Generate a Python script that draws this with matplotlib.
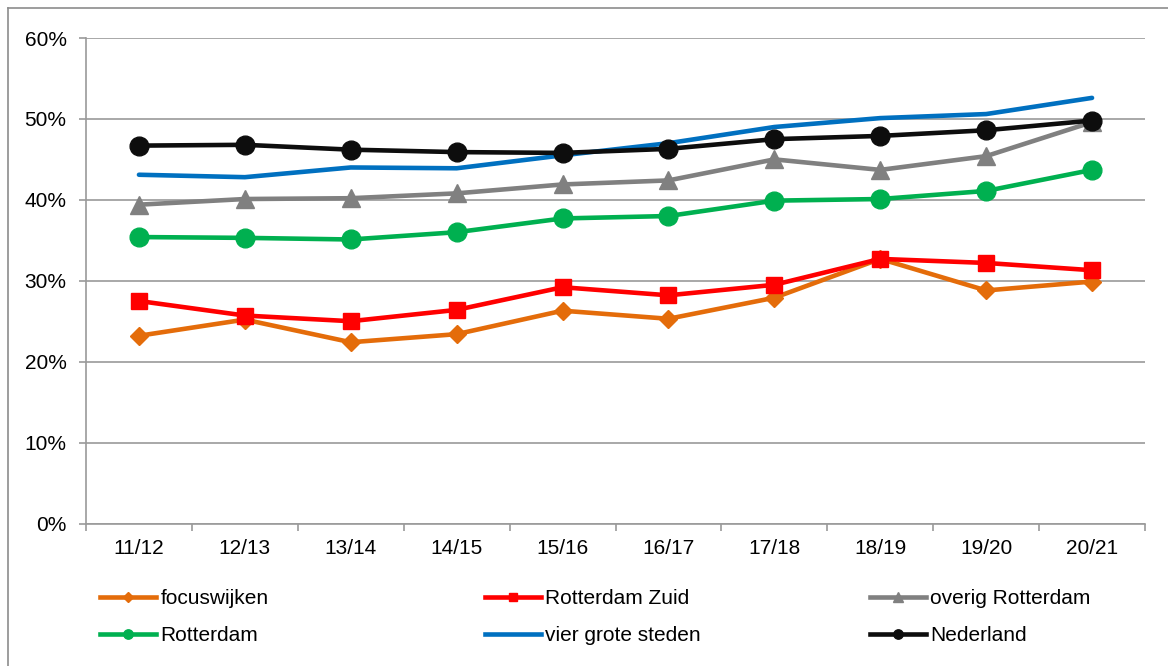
import matplotlib.pyplot as plt
from matplotlib.lines import Line2D
from matplotlib.ticker import FuncFormatter

plt.rcParams['font.family'] = ['Liberation Sans', 'DejaVu Sans']

jaren = ["11/12", "12/13", "13/14", "14/15", "15/16",
         "16/17", "17/18", "18/19", "19/20", "20/21"]

focuswijken = [23.2, 25.2, 22.4, 23.4, 26.3, 25.3, 27.9, 32.7, 28.8, 29.9]
rotterdam_zuid = [27.5, 25.7, 25.0, 26.4, 29.2, 28.2, 29.5, 32.7, 32.2, 31.3]
overig_rotterdam = [39.4, 40.1, 40.2, 40.8, 41.9, 42.4, 45.0, 43.7, 45.4, 49.6]
rotterdam = [35.4, 35.3, 35.1, 36.0, 37.7, 38.0, 39.9, 40.1, 41.1, 43.7]
vier_grote_steden = [43.1, 42.8, 44.0, 43.9, 45.5, 47.0, 49.0, 50.1, 50.6, 52.6]
nederland = [46.7, 46.8, 46.2, 45.9, 45.8, 46.3, 47.5, 47.9, 48.6, 49.8]

series = [
    ("focuswijken", focuswijken, "#E46C0A", "D", 9.5),
    ("Rotterdam Zuid", rotterdam_zuid, "#FF0000", "s", 12),
    ("overig Rotterdam", overig_rotterdam, "#808080", "^", 13.5),
    ("Rotterdam", rotterdam, "#00B050", "o", 13.5),
    ("vier grote steden", vier_grote_steden, "#0070C0", None, 0),
    ("Nederland", nederland, "#0D0D0D", "o", 13.5),
]

fs = 15
fig = plt.figure(figsize=(11.68, 6.66), dpi=100)
W, H = 1168, 666
ax = fig.add_axes([86 / W, 1 - 523.5 / H, (1145 - 86) / W, (523.5 - 38) / H])

x = list(range(len(jaren)))
handles = []
for naam, waarden, kleur, marker, ms in series:
    ax.plot(x, waarden, color=kleur, lw=3.3, marker=marker, markersize=ms,
            solid_capstyle="round", zorder=3)
    handles.append(Line2D([], [], color=kleur, lw=3.3, marker=marker,
                          markersize=ms * 0.5, label=naam))

gridkleur = "#9A9A9A"
ax.set_ylim(0, 60)
ax.set_yticks(range(0, 61, 10))
ax.yaxis.set_major_formatter(FuncFormatter(lambda v, p: f"{int(v)}%"))
ax.grid(axis="y", color=gridkleur, lw=1.2, zorder=0)
ax.set_axisbelow(True)

ax.set_xlim(-0.5, len(jaren) - 0.5)
ax.set_xticks([i - 0.5 for i in range(len(jaren) + 1)])
ax.set_xticklabels([])
ax.set_xticks(x, minor=True)
ax.set_xticklabels(jaren, minor=True)
ax.tick_params(axis="x", which="minor", length=0, pad=11, labelsize=fs)
ax.tick_params(axis="x", which="major", length=5, color=gridkleur, width=1.2)
ax.tick_params(axis="y", length=5, color=gridkleur, width=1.2, pad=9, labelsize=fs)

for s in ["top", "right"]:
    ax.spines[s].set_visible(False)
for s in ["left", "bottom"]:
    ax.spines[s].set_color(gridkleur)
    ax.spines[s].set_linewidth(1.2)

# rand van de grafiek (alleen links en boven zichtbaar)
fig.add_artist(Line2D([8 / W, 8 / W], [0, 1 - 8 / H], color="#8C8C8C", lw=1.2))
fig.add_artist(Line2D([8 / W, 1], [1 - 8 / H, 1 - 8 / H], color="#8C8C8C", lw=1.2))

kolommen = [(100, [handles[0], handles[3]]),
            (485, [handles[1], handles[4]]),
            (870, [handles[2], handles[5]])]
for xpos, hs in kolommen:
    fig.legend(handles=hs, loc="upper left",
               bbox_to_anchor=(xpos / W, 1 - 589 / H),
               frameon=False, fontsize=fs, handlelength=2.7,
               handletextpad=0.2, labelspacing=0.88,
               borderaxespad=0, borderpad=0)

fig.savefig("out.png", dpi=100)
